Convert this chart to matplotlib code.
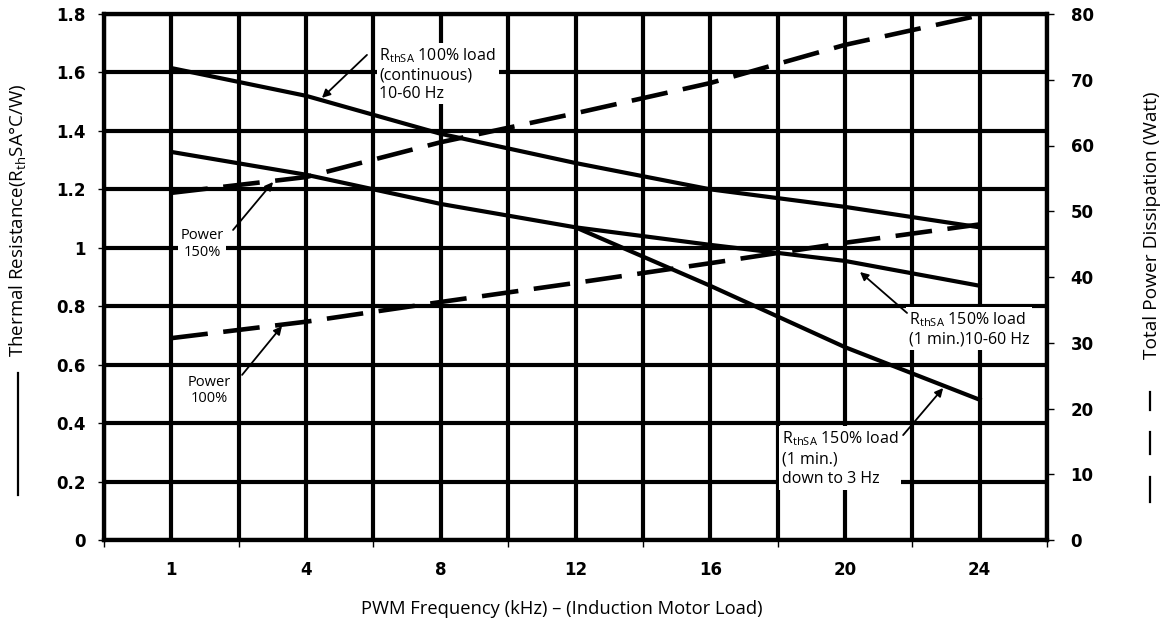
import numpy as np
import matplotlib
matplotlib.use('Agg')
import matplotlib.pyplot as plt
from matplotlib.lines import Line2D

plt.rcParams['font.family'] = ['Open Sans', 'DejaVu Sans']
plt.rcParams['mathtext.default'] = 'regular'

# PWM frequency categories (kHz)
freq_labels = ['1', '4', '8', '12', '16', '20', '24']
# thermal resistance, left axis (degC/W)
rth_100 = [1.615, 1.52, 1.39, 1.29, 1.20, 1.14, 1.07]
rth_150 = [1.328, 1.25, 1.15, 1.07, 1.01, 0.955, 0.87]
rth_150_3hz = [np.nan, np.nan, np.nan, 1.07, 0.87, 0.66, 0.48]
# total power dissipation, right axis (W)
power_150 = [52.8, 55.2, 60.5, 64.9, 69.5, 75.3, 79.8]
power_100 = [30.7, 33.2, 36.2, 39.1, 42.1, 45.2, 48.0]

W, H = 1169, 623
fig = plt.figure(figsize=(W / 100, H / 100), dpi=100)
ax = fig.add_axes([104 / W, 1 - 540 / H, 943 / W, 526 / H])
ax2 = ax.twinx()

x = np.arange(len(freq_labels)) + 0.5
lw = 3.0

# curves
ax.plot(x, rth_100, color='black', lw=lw, zorder=4)
ax.plot(x, rth_150, color='black', lw=lw, zorder=4)
ax.plot(x, rth_150_3hz, color='black', lw=lw, zorder=4)
ax2.plot(x, power_150, color='black', lw=3.3, dashes=(8, 3.4), dash_capstyle='butt')
ax2.plot(x, power_100, color='black', lw=3.3, dashes=(8, 3.4), dash_capstyle='butt')

ax.set_xlim(0, len(freq_labels))
ax.set_ylim(0, 1.8)
ax2.set_ylim(0, 80)

# axes, ticks, grid
ax.set_xticks(np.arange(0, len(freq_labels) + 1))
ax.set_xticklabels([])
ax.set_xticks(x, minor=True)
ax.set_xticklabels(freq_labels, minor=True)
ax.tick_params(axis='x', which='major', direction='out', length=5, width=1)
ax.tick_params(axis='x', which='minor', length=0, pad=15, labelsize=12)
yt = np.round(np.arange(0, 1.81, 0.2), 1)
ax.set_yticks(yt)
ax.set_yticklabels(['%g' % v for v in yt])
ax.tick_params(axis='y', direction='out', length=4, width=1, pad=9, labelsize=12)
ax2.set_yticks(np.arange(0, 81, 10))
ax2.tick_params(axis='y', direction='out', length=5, width=1, pad=12, labelsize=12)
for lab in ax.get_xticklabels(minor=True) + ax.get_yticklabels() + ax2.get_yticklabels():
    lab.set_fontweight('bold')
    lab.set_family('DejaVu Sans')

ax.grid(axis='x', which='both', color='black', lw=lw)
ax.grid(axis='y', which='major', color='black', lw=lw)
for a in (ax, ax2):
    for s in a.spines.values():
        s.set_linewidth(lw)

fig.text(562 / W, 1 - 609 / H, 'PWM Frequency (kHz) \u2013 (Induction Motor Load)',
         ha='center', va='center', fontsize=13.2)

# axis titles with line-style keys
fig.text(18 / W, 1 - 220 / H, 'Thermal Resistance(R$_{th}$SA\u00b0C/W)', rotation=90,
         ha='center', va='center', fontsize=13.5)
fig.add_artist(Line2D([18 / W, 18 / W], [1 - 373 / H, 1 - 495 / H], color='black', lw=1.6))
fig.text(1152 / W, 1 - 225 / H, 'Total Power Dissipation (Watt)', rotation=90,
         ha='center', va='center', fontsize=13.8)
for y0, y1 in [(392, 410), (432, 454), (477, 502)]:
    fig.add_artist(Line2D([1150 / W, 1150 / W], [1 - y0 / H, 1 - y1 / H], color='black', lw=1.6))

# annotations
box = dict(facecolor='white', edgecolor='none', pad=2)
arrow = dict(arrowstyle='-|>', color='black', lw=1.3, mutation_scale=12, shrinkA=0, shrinkB=0)

ax.text(2.045, 1.69, 'R$_{thSA}$ 100% load\n(continuous)\n10-60 Hz', fontsize=11.5,
        va='top', ha='left', linespacing=1.2, bbox=box, zorder=2)
ax.annotate('', xy=(1.618, 1.513), xytext=(1.952, 1.660), arrowprops=arrow, zorder=5)

ax.text(0.728, 1.013, 'Power\n150%', fontsize=10.5, ha='center', va='center',
        linespacing=1.1, bbox=box, zorder=2)
ax.annotate('', xy=(1.255, 1.225), xytext=(0.958, 1.061), arrowprops=arrow, zorder=5)

ax.text(0.78, 0.513, 'Power\n100%', fontsize=10.5, ha='center', va='center',
        linespacing=1.1, bbox=box, zorder=2)
ax.annotate('', xy=(1.321, 0.732), xytext=(1.025, 0.565), arrowprops=arrow, zorder=5)

ax.text(5.975, 0.785, 'R$_{thSA}$ 150% load\n(1 min.)10-60 Hz', fontsize=11.5,
        va='top', ha='left', linespacing=1.15, bbox=box, zorder=2)
ax.annotate('', xy=(5.612, 0.917), xytext=(5.961, 0.777), arrowprops=arrow, zorder=5)

ax.text(5.03, 0.38, 'R$_{thSA}$ 150% load\n(1 min.)\ndown to 3 Hz', fontsize=11.5,
        va='top', ha='left', linespacing=1.3, bbox=box, zorder=2)
ax.annotate('', xy=(6.229, 0.520), xytext=(5.932, 0.359), arrowprops=arrow, zorder=5)

fig.savefig('out.png', dpi=100)
